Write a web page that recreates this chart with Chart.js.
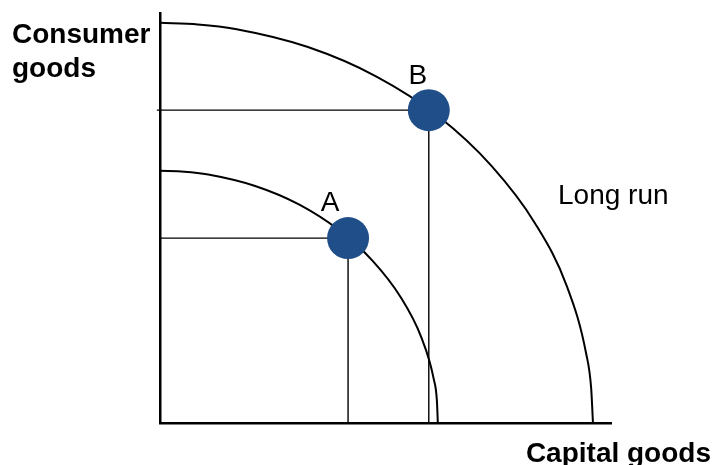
<!DOCTYPE html>
<html>
<head>
<meta charset="utf-8">
<script src="https://cdn.jsdelivr.net/npm/chart.js@4"></script>
<style>
  html, body { margin: 0; padding: 0; background: #fff; }
  #wrap { width: 713px; height: 465px; }
</style>
</head>
<body>
<div id="wrap"><canvas id="myChart" width="713" height="465"></canvas></div>
<script>
// production possibility frontiers (capital goods x, consumer goods y)
var longRunX = [0, 8.4, 16.7, 32.8, 48.0, 61.7, 73.5, 83.1, 90.2, 94.5, 95.6, 96.0];
var longRunY = [97.6, 97.2, 96.1, 91.7, 84.5, 74.8, 62.7, 48.8, 33.4, 16.9, 8.5, 0];
var shortRunX = [0, 5.4, 10.7, 21.1, 30.8, 39.6, 47.2, 53.3, 57.9, 60.7, 61.4, 61.6];
var shortRunY = [61.5, 61.3, 60.6, 57.8, 53.3, 47.1, 39.5, 30.8, 21.0, 10.7, 5.4, 0];

// points A and B
var pointLabels = ['A', 'B'];
var pointX = [41.7, 59.6];
var pointY = [45.1, 76.3];

function pairs(xs, ys) {
    var out = [];
    for (var i = 0; i < xs.length; i++) out.push({x: xs[i], y: ys[i]});
    return out;
}

var datasets = [];
// guide lines from each point to the axes
for (var i = 0; i < pointX.length; i++) {
    datasets.push({
        data: [{x: i == 1 ? -0.7 : 0, y: pointY[i]}, {x: pointX[i], y: pointY[i]}, {x: pointX[i], y: 0}],
        showLine: true, borderColor: '#000', borderWidth: 1.4, pointRadius: 0, tension: 0, clip: false, order: 1
    });
}
datasets.push({
    data: pairs(longRunX, longRunY),
    showLine: true, borderColor: '#000', borderWidth: 2, pointRadius: 0, cubicInterpolationMode: 'monotone', order: 1
});
datasets.push({
    data: pairs(shortRunX, shortRunY),
    showLine: true, borderColor: '#000', borderWidth: 2, pointRadius: 0, cubicInterpolationMode: 'monotone', order: 1
});
// circles go on top of the lines
datasets.push({
    data: pairs(pointX, pointY),
    showLine: false, pointRadius: 21, pointHoverRadius: 21,
    pointBackgroundColor: '#1f4e89', pointBorderWidth: 0, clip: false, order: 0
});

var textPlugin = {
    id: 'texts',
    afterDraw: function(chart) {
        var ctx = chart.ctx;
        var xs = chart.scales.x, ys = chart.scales.y;
        var dx = [-18, -11], dy = [-27, -26];
        ctx.save();
        ctx.fillStyle = '#000';
        ctx.textBaseline = 'alphabetic';
        ctx.font = 'bold 28px "Liberation Sans", Arial, sans-serif';
        ctx.textAlign = 'left';
        ctx.fillText('Consumer', 12, 43);
        ctx.fillText('goods', 12, 77);
        ctx.textAlign = 'right';
        ctx.fillText('Capital goods', 711, 462);
        ctx.font = '28px "Liberation Sans", Arial, sans-serif';
        ctx.textAlign = 'center';
        for (var i = 0; i < pointLabels.length; i++) {
            ctx.fillText(pointLabels[i], xs.getPixelForValue(pointX[i]) + dx[i], ys.getPixelForValue(pointY[i]) + dy[i]);
        }
        ctx.textAlign = 'left';
        ctx.fillText('Long run', 558, 204);
        ctx.restore();
    }
};

var ctx = document.getElementById('myChart').getContext('2d');
var myChart = new Chart(ctx, {
    type: 'scatter',
    data: { datasets: datasets },
    options: {
        responsive: false,
        animation: false,
        events: [],
        layout: { autoPadding: false, padding: { left: 160, right: 102, top: 13, bottom: 42 } },
        plugins: { legend: { display: false }, tooltip: { enabled: false } },
        scales: {
            x: {
                type: 'linear', min: 0, max: 100,
                ticks: { display: false },
                grid: { display: false, drawTicks: false },
                border: { display: true, color: '#000', width: 2.5 }
            },
            y: {
                type: 'linear', min: 0, max: 100,
                ticks: { display: false },
                grid: { display: false, drawTicks: false },
                border: { display: true, color: '#000', width: 2.5 }
            }
        }
    },
    plugins: [textPlugin]
});
</script>
</body>
</html>
